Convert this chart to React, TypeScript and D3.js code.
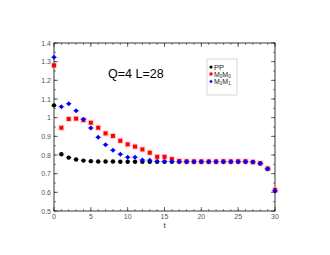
import React from "react";
import * as d3 from "d3";

const tValues = d3.range(0, 31);
const ppValues = [1.066, 0.804, 0.786, 0.776, 0.770, 0.767, 0.765, 0.765, 0.765, 0.764, 0.764, 0.764, 0.764, 0.764, 0.764, 0.764, 0.764, 0.764, 0.764, 0.764, 0.764, 0.764, 0.764, 0.764, 0.764, 0.764, 0.764, 0.763, 0.755, 0.727, 0.609];
const m0Values = [1.28, 0.946, 0.993, 0.995, 0.987, 0.973, 0.946, 0.916, 0.902, 0.876, 0.857, 0.845, 0.83, 0.812, 0.79, 0.79, 0.778, 0.768, 0.766, 0.765, 0.765, 0.765, 0.765, 0.766, 0.765, 0.766, 0.766, 0.762, 0.756, 0.727, 0.612];
const m1Values = [1.323, 1.059, 1.075, 1.037, 0.991, 0.945, 0.895, 0.855, 0.825, 0.804, 0.788, 0.788, 0.773, 0.772, 0.765, 0.765, 0.765, 0.764, 0.764, 0.764, 0.764, 0.764, 0.764, 0.764, 0.764, 0.764, 0.764, 0.763, 0.754, 0.725, 0.607];
const xTicks = [0, 5, 10, 15, 20, 25, 30];
const yTicks = [0.5, 0.6, 0.7, 0.8, 0.9, 1, 1.1, 1.2, 1.3, 1.4];
const legendLabels = ["PP", "M0M0", "M1M1"];
const titleText = "Q=4 L=28";

export default function App() {
  const W = 330, H = 255;
  const left = 54, right = 275, top = 43, bottom = 211;
  const x = d3.scaleLinear().domain([0, 30]).range([left, right]);
  const y = d3.scaleLinear().domain([0.5, 1.4]).range([bottom, top]);
  const font = "'Liberation Sans', Arial, sans-serif";
  const xMinor = d3.range(0, 31, 1);
  const yMinor = d3.range(0.5, 1.4001, 0.05);
  const tickCol = "#555";

  const diamond = (cx: number, cy: number, r: number) =>
    `M${cx},${cy - r}L${cx + r},${cy}L${cx},${cy + r}L${cx - r},${cy}Z`;

  const sub = (label: string, y0: number) => (
    <text x={214} y={y0} fontSize={7} fill="#222" fontFamily={font}>
      {label[0]}<tspan fontSize={4.5} dy={1.2}>{label[1]}</tspan><tspan dy={-1.2}>{label[2]}</tspan><tspan fontSize={4.5} dy={1.2}>{label[3]}</tspan>
    </text>
  );

  return (
    <svg width={W} height={H} style={{ position: "absolute", left: 0, top: 0, background: "#fff" }}>
      <rect x={0} y={0} width={W} height={H} fill="#fff" />
      {xMinor.map((t) => (
        <g key={"xm" + t}>
          <line x1={x(t)} x2={x(t)} y1={bottom} y2={bottom - 2} stroke="#333" strokeWidth={0.6} />
          <line x1={x(t)} x2={x(t)} y1={top} y2={top + 2} stroke="#333" strokeWidth={0.6} />
        </g>
      ))}
      {yMinor.map((v, i) => (
        <g key={"ym" + i}>
          <line x1={left} x2={left + 2} y1={y(v)} y2={y(v)} stroke="#333" strokeWidth={0.6} />
          <line x1={right} x2={right - 2} y1={y(v)} y2={y(v)} stroke="#333" strokeWidth={0.6} />
        </g>
      ))}
      {xTicks.map((t) => (
        <g key={"xt" + t}>
          <line x1={x(t)} x2={x(t)} y1={bottom} y2={bottom - 4} stroke="#333" strokeWidth={0.7} />
          <line x1={x(t)} x2={x(t)} y1={top} y2={top + 4} stroke="#333" strokeWidth={0.7} />
          <text x={x(t)} y={bottom + 8} fontSize={7} fill={tickCol} textAnchor="middle" fontFamily={font}>{t}</text>
        </g>
      ))}
      {yTicks.map((v) => (
        <g key={"yt" + v}>
          <line x1={left} x2={left + 4} y1={y(v)} y2={y(v)} stroke="#333" strokeWidth={0.7} />
          <line x1={right} x2={right - 4} y1={y(v)} y2={y(v)} stroke="#333" strokeWidth={0.7} />
          <text x={left - 3} y={y(v) + 2.5} fontSize={7} fill={tickCol} textAnchor="end" fontFamily={font}>{String(v)}</text>
        </g>
      ))}
      <rect x={left} y={top} width={right - left} height={bottom - top} fill="none" stroke="#222" strokeWidth={0.9} />
      <text x={(left + right) / 2} y={bottom + 17} fontSize={8} fill="#333" textAnchor="middle" fontFamily={font}>t</text>
      <text x={108} y={78} fontSize={12.5} fill="#000" fontFamily={font}>{titleText}</text>

      {tValues.map((t, i) => (
        <g key={"pp" + i}>
          <line x1={x(t) - 3} x2={x(t) + 3} y1={y(ppValues[i])} y2={y(ppValues[i])} stroke="#000" strokeOpacity={0.35} strokeWidth={0.8} />
          <circle cx={x(t)} cy={y(ppValues[i])} r={2.2} fill="#000" />
        </g>
      ))}
      {tValues.map((t, i) => (
        <g key={"m0" + i}>
          <rect x={x(t) - 3} y={y(m0Values[i]) - 3} width={6} height={6} fill="#f66" fillOpacity={0.3} />
          <rect x={x(t) - 2} y={y(m0Values[i]) - 2} width={4} height={4} fill="#f00" />
        </g>
      ))}
      {tValues.map((t, i) => (
        <g key={"m1" + i}>
          <line x1={x(t) - 3.5} x2={x(t) + 3.5} y1={y(m1Values[i])} y2={y(m1Values[i])} stroke="#66f" strokeOpacity={0.5} strokeWidth={1} />
          <path d={diamond(x(t), y(m1Values[i]), 2.5)} fill="#00f" />
        </g>
      ))}

      <rect x={207} y={59} width={30} height={36} fill="#fff" stroke="#ccc" strokeWidth={0.8} />
      <circle cx={211} cy={67} r={1.6} fill="#000" />
      <text x={214} y={69.5} fontSize={7.5} fill="#222" fontFamily={font}>{legendLabels[0]}</text>
      <rect x={209.5} y={72.5} width={3} height={3} fill="#f00" />
      {sub(legendLabels[1], 76.5)}
      <path d={diamond(211, 81.5, 1.7)} fill="#00f" />
      {sub(legendLabels[2], 84)}
    </svg>
  );
}
